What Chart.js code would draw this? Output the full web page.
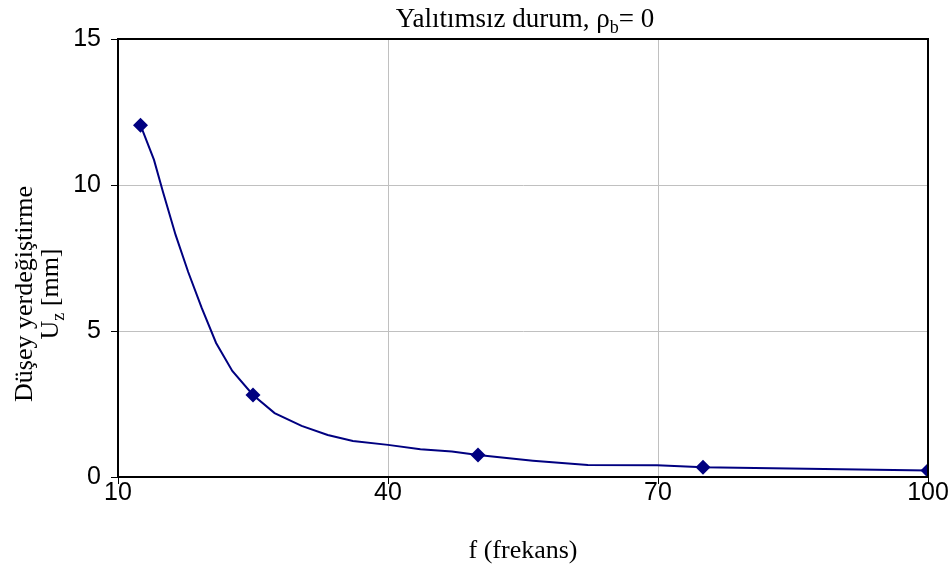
<!DOCTYPE html>
<html>
<head>
<meta charset="utf-8">
<script src="https://cdn.jsdelivr.net/npm/chart.js@4"></script>
<style>
  html, body { margin: 0; padding: 0; background: #fff; }
  #wrap { width: 952px; height: 569px; position: relative; }
</style>
</head>
<body>
<div id="wrap"><canvas id="c" width="952" height="569"></canvas></div>
<script>
// Frequency (x) and vertical displacement Uz in mm (y)
const freq = [12.5, 14, 15, 16.4, 17.8, 19.3, 20.9, 22.7, 25, 27.4, 30.4, 33.3, 36.1, 40, 43.6, 47.1, 50, 56.1, 62.2, 69.9, 75, 100];
const uz   = [12.05, 10.86, 9.76, 8.29, 7.02, 5.79, 4.59, 3.63, 2.81, 2.19, 1.75, 1.44, 1.23, 1.10, 0.95, 0.87, 0.75, 0.56, 0.41, 0.40, 0.33, 0.22];
// Frequencies that carry a diamond marker
const markedFreq = [12.5, 25, 50, 75, 100];
const xTicks = [10, 40, 70, 100];
const yTicks = [0, 5, 10, 15];

const SERIF = '"Liberation Serif", "Times New Roman", serif';
const SANS = '"Liberation Sans", Arial, sans-serif';

// Draws a run of [text, isSubscript] parts, centred on x
function drawParts(ctx, parts, x, y, size) {
  const subSize = Math.round(size * 0.68);
  let total = 0;
  const widths = parts.map(([t, sub]) => {
    ctx.font = (sub ? subSize : size) + 'px ' + SERIF;
    const w = ctx.measureText(t).width;
    total += w;
    return w;
  });
  let cx = x - total / 2;
  parts.forEach(([t, sub], i) => {
    ctx.font = (sub ? subSize : size) + 'px ' + SERIF;
    ctx.fillText(t, cx, sub ? y + size * 0.22 : y);
    cx += widths[i];
  });
}

const decorations = {
  id: 'decorations',
  afterDraw(chart) {
    const { ctx, chartArea: a } = chart;
    ctx.save();
    // plot frame
    ctx.strokeStyle = '#000';
    ctx.lineWidth = 2;
    ctx.strokeRect(a.left, a.top, a.right - a.left, a.bottom - a.top);

    ctx.fillStyle = '#000';
    ctx.textBaseline = 'alphabetic';
    ctx.textAlign = 'left';
    const cx = (a.left + a.right) / 2;
    // chart title
    drawParts(ctx, [['Yalıtımsız durum, ρ', false], ['b', true], ['= 0', false]], cx + 2, 27, 27);
    // x axis title
    drawParts(ctx, [['f (frekans)', false]], cx, 558, 26);
    // y axis title (rotated, two lines)
    ctx.translate(0, 294);
    ctx.rotate(-Math.PI / 2);
    drawParts(ctx, [['Düşey yerdeğiştirme', false]], 0, 32, 26);
    drawParts(ctx, [['U', false], ['z', true], [' [mm]', false]], 0, 58, 26);
    ctx.restore();
  }
};

new Chart(document.getElementById('c'), {
  type: 'scatter',
  data: {
    datasets: [{
      data: freq.map((f, i) => ({ x: f, y: uz[i] })),
      showLine: true,
      tension: 0,
      borderColor: '#000080',
      borderWidth: 2,
      backgroundColor: '#000080',
      pointStyle: 'rectRot',
      pointRadius: ctx => markedFreq.includes(freq[ctx.dataIndex]) ? 7.5 : 0,
      pointHoverRadius: 0,
      pointBorderWidth: 0
    }]
  },
  options: {
    responsive: false,
    animation: false,
    events: [],
    layout: { padding: { left: 0, right: 24, top: 39, bottom: 0 } },
    plugins: { legend: { display: false }, tooltip: { enabled: false } },
    scales: {
      x: {
        type: 'linear',
        min: 10, max: 100,
        afterBuildTicks: s => { s.ticks = xTicks.map(v => ({ value: v })); },
        afterFit: s => { s.height = 92; },
        grid: { color: '#c0c0c0', lineWidth: 1, tickLength: 7, tickColor: '#000' },
        border: { color: '#000', width: 2 },
        ticks: { color: '#000', font: { family: SANS, size: 25 }, padding: -6, maxRotation: 0 }
      },
      y: {
        type: 'linear',
        min: 0, max: 15,
        afterBuildTicks: s => { s.ticks = yTicks.map(v => ({ value: v })); },
        afterFit: s => { s.width = 118; },
        grid: { color: '#c0c0c0', lineWidth: 1, tickLength: 7, tickColor: '#000' },
        border: { color: '#000', width: 2 },
        ticks: { color: '#000', font: { family: SANS, size: 25 }, padding: 10 }
      }
    }
  },
  plugins: [decorations]
});
</script>
</body>
</html>
